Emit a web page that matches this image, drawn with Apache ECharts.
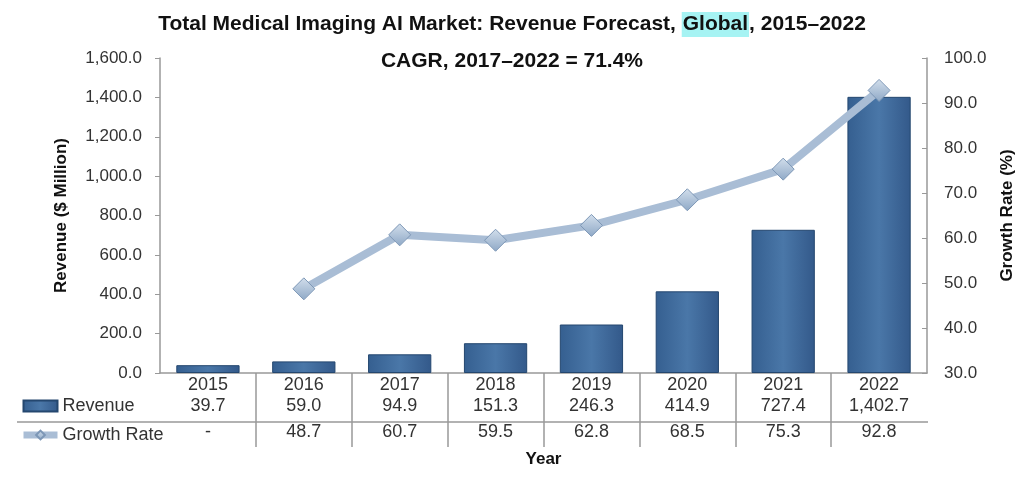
<!DOCTYPE html>
<html>
<head>
<meta charset="utf-8">
<script src="https://cdn.jsdelivr.net/npm/echarts@6/dist/echarts.min.js"></script>
<style>
  html, body { margin: 0; padding: 0; background: #fff; }
  #main { width: 1024px; height: 479px; }
</style>
</head>
<body>
<div id="main"></div>
<script>
const years = ['2015', '2016', '2017', '2018', '2019', '2020', '2021', '2022'];
const revenue = [39.7, 59.0, 94.9, 151.3, 246.3, 414.9, 727.4, 1402.7];
const growth = ['-', 48.7, 60.7, 59.5, 62.8, 68.5, 75.3, 92.8];

const fmt1 = v => Number(v).toLocaleString('en-US', { minimumFractionDigits: 1, maximumFractionDigits: 1 });
const txt = '#333';
const font = 'Liberation Sans, Arial, sans-serif';

// boundaries between the columns of the table under the plot
const cellEdges = years.slice(1).map((y, i) => i + 0.5);

const chart = echarts.init(document.getElementById('main'));
const option = {
  textStyle: { fontFamily: font },
  title: [
    {
      left: 'center',
      top: 7,
      text: '{a|Total Medical Imaging AI Market: Revenue Forecast, }{g|Global}{a|, 2015–2022}',
      textStyle: {
        rich: {
          a: { fontSize: 21, fontWeight: 'bold', color: '#111' },
          g: { fontSize: 21, fontWeight: 'bold', color: '#111', backgroundColor: '#a6f3f3', padding: [2, 1] }
        }
      }
    },
    {
      left: 'center',
      top: 46,
      text: 'CAGR, 2017–2022 = 71.4%',
      textStyle: { fontSize: 21, fontWeight: 'bold', color: '#111' }
    }
  ],
  legend: {
    orient: 'vertical',
    left: 15,
    top: 392,
    itemWidth: 34,
    itemHeight: 11,
    itemGap: 11,
    textStyle: { fontSize: 18, color: txt },
    data: [
      { name: 'Revenue', icon: 'rect' },
      { name: 'Growth Rate', lineStyle: { width: 7, color: '#a9bdd5' } }
    ]
  },
  grid: { left: 160, right: 96, top: 58, bottom: 106 },
  xAxis: [
    {
      type: 'category',
      data: years,
      name: 'Year',
      nameLocation: 'middle',
      nameGap: 78,
      nameTextStyle: { fontSize: 17, fontWeight: 'bold', color: '#111' },
      axisLine: { lineStyle: { color: '#999', width: 1.5 } },
      axisTick: { show: false },
      axisLabel: { fontSize: 18, color: txt, margin: 3 }
    },
    {
      type: 'category',
      data: revenue.map(fmt1),
      position: 'bottom',
      axisLine: { show: false },
      axisTick: { show: false },
      axisLabel: { fontSize: 18, color: txt, margin: 24 }
    },
    {
      type: 'category',
      data: growth.map(v => v === '-' ? '-' : fmt1(v)),
      position: 'bottom',
      axisLine: { show: false },
      axisTick: { show: false },
      axisLabel: { fontSize: 18, color: txt, margin: 50 }
    },
    {
      type: 'value',
      min: -0.5,
      max: years.length - 0.5,
      position: 'bottom',
      axisLine: { show: false },
      axisLabel: { show: false },
      splitLine: { show: false },
      axisTick: { show: true, length: 74, customValues: cellEdges, lineStyle: { color: '#999', width: 1.5 } }
    }
  ],
  yAxis: [
    {
      type: 'value',
      min: 0,
      max: 1600,
      interval: 200,
      name: 'Revenue ($ Million)',
      nameLocation: 'middle',
      nameGap: 90,
      nameRotate: 90,
      nameTextStyle: { fontSize: 17, fontWeight: 'bold', color: '#111' },
      axisLine: { show: true, onZero: false, lineStyle: { color: '#999', width: 1.5 } },
      axisTick: { show: true, length: 5, lineStyle: { color: '#999' } },
      axisLabel: { fontSize: 17, color: txt, margin: 18, formatter: fmt1 },
      splitLine: { show: false }
    },
    {
      type: 'value',
      min: 30,
      max: 100,
      interval: 10,
      name: 'Growth Rate (%)',
      nameLocation: 'middle',
      nameGap: 72,
      nameRotate: 90,
      nameTextStyle: { fontSize: 17, fontWeight: 'bold', color: '#111' },
      axisLine: { show: true, onZero: false, lineStyle: { color: '#999', width: 1.5 } },
      axisTick: { show: true, inside: true, length: 5, lineStyle: { color: '#999' } },
      axisLabel: { fontSize: 17, color: txt, margin: 17, formatter: fmt1 },
      splitLine: { show: false }
    }
  ],
  graphic: [
    {
      type: 'line',
      shape: { x1: 17, y1: 422, x2: 928, y2: 422 },
      style: { stroke: '#999', lineWidth: 1.5 }
    }
  ],
  series: [
    {
      name: 'Revenue',
      type: 'bar',
      data: revenue,
      barWidth: '66%',
      itemStyle: {
        borderColor: '#24476f',
        borderWidth: 1,
        color: new echarts.graphic.LinearGradient(0, 0, 1, 0, [
          { offset: 0, color: '#355f90' },
          { offset: 0.5, color: '#4a77a8' },
          { offset: 1, color: '#33598a' }
        ])
      }
    },
    {
      name: 'Growth Rate',
      type: 'line',
      yAxisIndex: 1,
      data: growth,
      symbol: 'diamond',
      symbolSize: 22,
      lineStyle: { color: '#a9bdd5', width: 8 },
      itemStyle: {
        color: new echarts.graphic.LinearGradient(0, 0, 0, 1, [
          { offset: 0, color: '#d3dfec' },
          { offset: 1, color: '#8ea8c6' }
        ]),
        borderColor: '#7d97b6',
        borderWidth: 1
      },
      z: 5
    }
  ]
};
chart.setOption(option);
</script>
</body>
</html>
